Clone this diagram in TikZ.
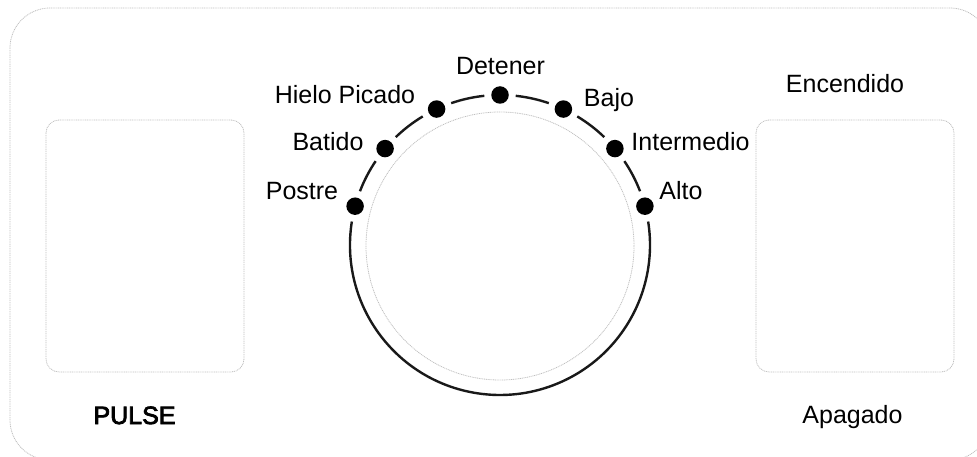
\documentclass[tikz,border=0pt]{standalone}
\usepackage{fontspec}
\setmainfont{Liberation Sans}
\newfontfamily\pulsefont[FakeBold=3]{Liberation Sans}
\begin{document}
\begin{tikzpicture}[x=1pt,y=1pt,
  greyline/.style={draw=black!25, line width=0.8pt, dash pattern=on 1pt off 0.8pt},
  dialdot/.style={circle, fill=black, inner sep=0pt, minimum size=17.5pt},
  arcline/.style={draw=black!90, line width=2.4pt},
  lbl/.style={anchor=base, inner sep=0pt, font=\fontsize{25}{29}\selectfont},
  lblb/.style={lbl, font=\fontsize{25}{29}\pulsefont}]
\useasboundingbox (0,0) rectangle (977,-457);
\clip (0,0) rectangle (977,-457);
% panels
\draw[greyline, rounded corners=40] (10,-8) rectangle (990,-460);
\draw[greyline, rounded corners=13] (46,-120) rectangle (244,-372);
\draw[greyline, rounded corners=13] (756,-120) rectangle (954,-372);
% dial
\coordinate (C) at (500,-245);
\draw[greyline] (500,-246) circle[radius=134];
\foreach \i/\a in {1/165,2/140,3/115,4/90,5/65,6/40,7/15}{
  \node[dialdot] (d\i) at ([shift={(\a:150)}]C) {};
}
\foreach \a in {15,40,65,90,115,140}{
  \draw[arcline] ([shift={(\a+6:150)}]C) arc[start angle=\a+6, end angle=\a+19, radius=150];
}
\draw[arcline] ([shift={(171:150)}]C) arc[start angle=171, end angle=369, radius=150];
% labels
\node[lbl] (tDetener) at (500.5,-75) {Detener};
\node[lbl] (tHielo) at (345,-104) {Hielo Picado};
\node[lbl] (tBajo) at (609,-107) {Bajo};
\node[lbl] (tBatido) at (328,-151) {Batido};
\node[lbl] (tInter) at (690.5,-151) {Intermedio};
\node[lbl] (tPostre) at (302,-200) {Postre};
\node[lbl] (tAlto) at (681,-200) {Alto};
\node[lbl] (tEnc) at (845,-93) {Encendido};
\node[lbl] (tApa) at (852.5,-423) {Apagado};
\node[lblb] (tPulse) at (134.5,-424) {PULSE};
\end{tikzpicture}
\end{document}
